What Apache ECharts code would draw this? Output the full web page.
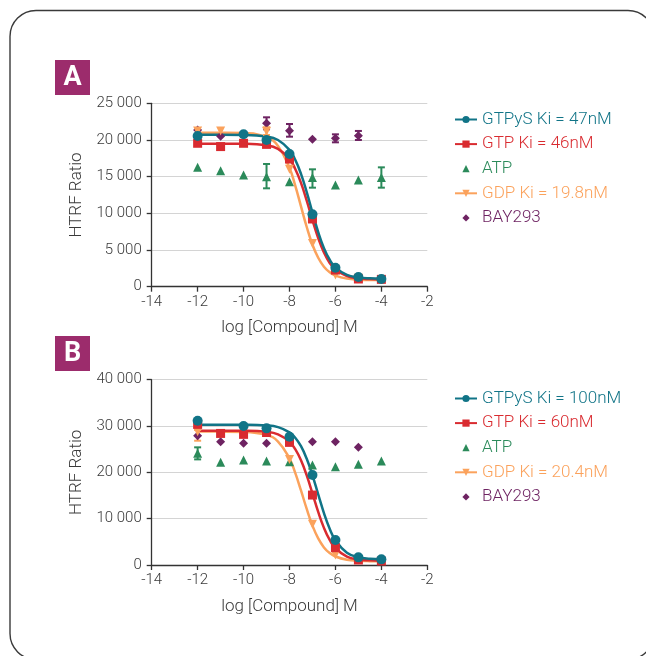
<!DOCTYPE html>
<html>
<head>
<meta charset="utf-8">
<script src="https://cdn.jsdelivr.net/npm/echarts@6/dist/echarts.min.js"></script>
<style>
  html, body { margin: 0; padding: 0; background: #fff; }
  #chart { width: 646px; height: 656px; }
</style>
</head>
<body>
<div id="chart"></div>
<script>
// doses (log M) of the measured points
const doseLog = [-12, -11, -10, -9, -8, -7, -6, -5, -4];

// panel A points (null = hidden behind other marks)
const aGtpgs = [20550, null, 20770, 20000, 18090, 9860, 2590, 1320, 1050];
const aGtp = [19550, 19100, 19550, 19400, 17400, 9230, 2270, 1050, 1000];
const aAtp = [16270, 15800, 15230, 15000, 14300, 14900, 13860, 14550, 14900];
const aGdp = [21230, 21230, null, 21200, 16000, 5900, 1590, 1140, null];
const aBay = [21360, 20500, null, 22270, 21270, 20090, 20230, 20590, null];
// error bars [dose, low, high]
const aAtpErr = [[-9, 13410, 16730], [-7, 13500, 16000], [-4, 13500, 16270]];
const aGdpErr = [[-9, 20680, 21730]];
const aBayErr = [[-9, 21450, 23090], [-8, 20450, 22180], [-6, 19680, 20770], [-5, 20000, 21230]];

// panel B points
const bGtpgs = [31150, null, 30000, 29500, 27700, 19420, 5400, 1650, 1220];
const bGtp = [30360, 28400, 28200, 28600, 26470, 15100, 3740, 1080, 860];
const bAtp = [24100, 22160, 22660, 22440, 22300, 21580, 21220, 21730, 22440];
const bGdp = [28780, null, null, 28700, 22800, 8780, 2160, 1080, null];
const bBay = [27900, 26600, 26260, 26260, null, 26600, 26600, 25400, null];
const bAtpErr = [[-12, 22800, 25400]];
const bGdpErr = [[-12, 26830, 29140]];

// fitted curves
const curveX = [-12, -11, -10, -9, -8.5, -8, -7.75, -7.5, -7.25, -7, -6.75, -6.5, -6.25, -6, -5.5, -5, -4.5, -4];
const aFitGtpgs = [20700, 20700, 20680, 20470, 20000, 18640, 17310, 15390, 12900, 10110, 7450, 5260, 3680, 2640, 1610, 1270, 1150, 1120];
const aFitGtp = [19500, 19500, 19480, 19270, 18780, 17390, 16050, 14150, 11730, 9090, 6620, 4650, 3240, 2330, 1440, 1140, 1050, 1010];
const aFitGdp = [21000, 20990, 20940, 20380, 19170, 16170, 13770, 10950, 8140, 5730, 3940, 2730, 1970, 1520, 1100, 960, 920, 910];
const bFitGtpgs = [30300, 30300, 30280, 30130, 29760, 28640, 27480, 25640, 22940, 19360, 15250, 11220, 7830, 5340, 2650, 1680, 1350, 1250];
const bFitGtp = [29000, 29000, 28970, 28740, 28190, 26600, 25000, 22600, 19330, 15430, 11460, 8010, 5400, 3620, 1820, 1200, 1000, 930];
const bFitGdp = [28800, 28790, 28730, 28080, 26650, 22970, 19880, 16090, 12100, 8510, 5730, 3800, 2570, 1830, 1130, 910, 830, 810];

const legendA = ['GTPyS Ki = 47nM', 'GTP Ki = 46nM', 'ATP', 'GDP Ki = 19.8nM', 'BAY293'];
const legendB = ['GTPyS Ki = 100nM', 'GTP Ki = 60nM', 'ATP', 'GDP Ki = 20.4nM', 'BAY293'];

const TEAL = '#117487', RED = '#d92b30', GREEN = '#2b8a5a', ORANGE = '#fba25c', PURPLE = '#6e2362';
const FONT = 'Roboto';
const triDown = 'path://M0,0L10,0L5,9Z';

const pairs = (xs, ys) => xs.map((x, i) => [x, ys[i]]).filter(p => p[1] != null);

const fitLine = (name, ys, color, symbol, idx) => ({
    name: name, type: 'line', xAxisIndex: idx, yAxisIndex: idx,
    data: pairs(curveX, ys), smooth: 0.45,
    symbol: symbol, symbolSize: 9, showSymbol: false,
    lineStyle: { color: color, width: 2.5 }, itemStyle: { color: color },
    silent: true, z: 2
});
// points drawn as a line series with an invisible line, so the legend
// gets a small centred symbol like the reference
const dots = (name, ys, color, symbol, size, idx) => ({
    name: name, type: 'line', xAxisIndex: idx, yAxisIndex: idx,
    data: pairs(doseLog, ys), symbol: symbol, symbolSize: size,
    showSymbol: true, showAllSymbol: true,
    lineStyle: { width: 0, opacity: 0 },
    itemStyle: { color: color, opacity: 1 }, silent: true, z: 4
});
const errBars = (name, rows, color, idx) => ({
    name: name, type: 'custom', xAxisIndex: idx, yAxisIndex: idx,
    data: rows, encode: { x: 0, y: [1, 2] }, silent: true, z: 3,
    renderItem: (params, api) => {
        const lo = api.coord([api.value(0), api.value(1)]);
        const hi = api.coord([api.value(0), api.value(2)]);
        const w = 3.5, st = { stroke: color, lineWidth: 2 };
        return { type: 'group', children: [
            { type: 'line', shape: { x1: lo[0], y1: lo[1], x2: hi[0], y2: hi[1] }, style: st },
            { type: 'line', shape: { x1: lo[0] - w, y1: lo[1], x2: lo[0] + w, y2: lo[1] }, style: st },
            { type: 'line', shape: { x1: hi[0] - w, y1: hi[1], x2: hi[0] + w, y2: hi[1] }, style: st }
        ] };
    }
});

const thousands = v => String(v).replace(/\B(?=(\d{3})+(?!\d))/g, ' ');
const axisTxt = { color: '#3a3a3a', fontFamily: FONT, fontSize: 15, fontWeight: 300 };

const xAx = idx => ({
    type: 'value', gridIndex: idx, min: -14, max: -2, interval: 2,
    name: 'log [Compound] M', nameLocation: 'middle', nameGap: 33,
    nameTextStyle: { color: '#3a3a3a', fontFamily: FONT, fontSize: 17, fontWeight: 300 },
    axisLine: { onZero: false, lineStyle: { color: '#333', width: 1.3 } },
    axisTick: { show: true, length: 5, lineStyle: { color: '#333', width: 1.3 } },
    axisLabel: Object.assign({ margin: 8 }, axisTxt),
    splitLine: { show: false }
});
const yAx = (idx, max, step) => ({
    type: 'value', gridIndex: idx, min: 0, max: max, interval: step,
    name: 'HTRF Ratio', nameLocation: 'middle', nameGap: 66,
    nameTextStyle: { color: '#3a3a3a', fontFamily: FONT, fontSize: 17, fontWeight: 300 },
    axisLine: { show: true, lineStyle: { color: '#333', width: 1.3 } },
    axisTick: { show: true, length: 5, lineStyle: { color: '#333', width: 1.3 } },
    axisLabel: Object.assign({ margin: 10, formatter: thousands }, axisTxt),
    splitLine: { show: true, lineStyle: { color: '#d4d4d4', width: 1 } }
});

const legendColors = [TEAL, RED, GREEN, ORANGE, PURPLE];
const legend = (names, top) => ({
    orient: 'vertical', left: 449, top: top, itemWidth: 22, itemHeight: 9, itemGap: 7.6,
    selectedMode: false,
    data: names.map((n, i) => ({ name: n, textStyle: { color: legendColors[i] } })),
    textStyle: { fontFamily: FONT, fontSize: 17, lineHeight: 17, fontWeight: 300 }
});

const panelTag = (letter, y) => ({
    type: 'group', left: 55, top: y, children: [
        { type: 'rect', shape: { x: 0, y: 0, width: 35, height: 35 }, style: { fill: '#9c2c6c' } },
        { type: 'text', x: 17.5, y: 18.5, style: { text: letter, fill: '#fff', font: 'bold 27px ' + FONT, align: 'center', verticalAlign: 'middle' } }
    ]
});

const option = {
    animation: false,
    backgroundColor: '#fff',
    graphic: [
        { type: 'rect', shape: { x: 10, y: 10.5, width: 644, height: 649, r: 26 }, style: { fill: 'none', stroke: '#3a3a3a', lineWidth: 1.4 } },
        panelTag('A', 60),
        panelTag('B', 336)
    ],
    legend: [legend(legendA, 106), legend(legendB, 385)],
    grid: [
        { left: 151.7, right: 218.7, top: 103.3, bottom: 369.3 },
        { left: 151.7, right: 218.7, top: 379.7, bottom: 91 }
    ],
    xAxis: [xAx(0), xAx(1)],
    yAxis: [yAx(0, 25000, 5000), yAx(1, 40000, 10000)],
    series: [
        fitLine(legendA[3], aFitGdp, ORANGE, triDown, 0),
        fitLine(legendA[1], aFitGtp, RED, 'rect', 0),
        fitLine(legendA[0], aFitGtpgs, TEAL, 'circle', 0),
        dots('BAY293', aBay, PURPLE, 'diamond', 9, 0),
        errBars('errA-bay', aBayErr, PURPLE, 0),
        dots('ATP', aAtp, GREEN, 'triangle', 9, 0),
        errBars('errA-atp', aAtpErr, GREEN, 0),
        errBars('errA-gdp', aGdpErr, ORANGE, 0),
        dots(legendA[3], aGdp, ORANGE, triDown, 9, 0),
        dots(legendA[1], aGtp, RED, 'rect', 9, 0),
        dots(legendA[0], aGtpgs, TEAL, 'circle', 10, 0),

        fitLine(legendB[3], bFitGdp, ORANGE, triDown, 1),
        fitLine(legendB[1], bFitGtp, RED, 'rect', 1),
        fitLine(legendB[0], bFitGtpgs, TEAL, 'circle', 1),
        dots('BAY293', bBay, PURPLE, 'diamond', 9, 1),
        dots('ATP', bAtp, GREEN, 'triangle', 9, 1),
        errBars('errB-atp', bAtpErr, GREEN, 1),
        errBars('errB-gdp', bGdpErr, ORANGE, 1),
        dots(legendB[3], bGdp, ORANGE, triDown, 9, 1),
        dots(legendB[1], bGtp, RED, 'rect', 9, 1),
        dots(legendB[0], bGtpgs, TEAL, 'circle', 10, 1)
    ]
};

const chart = echarts.init(document.getElementById('chart'));
chart.setOption(option);
</script>
</body>
</html>
